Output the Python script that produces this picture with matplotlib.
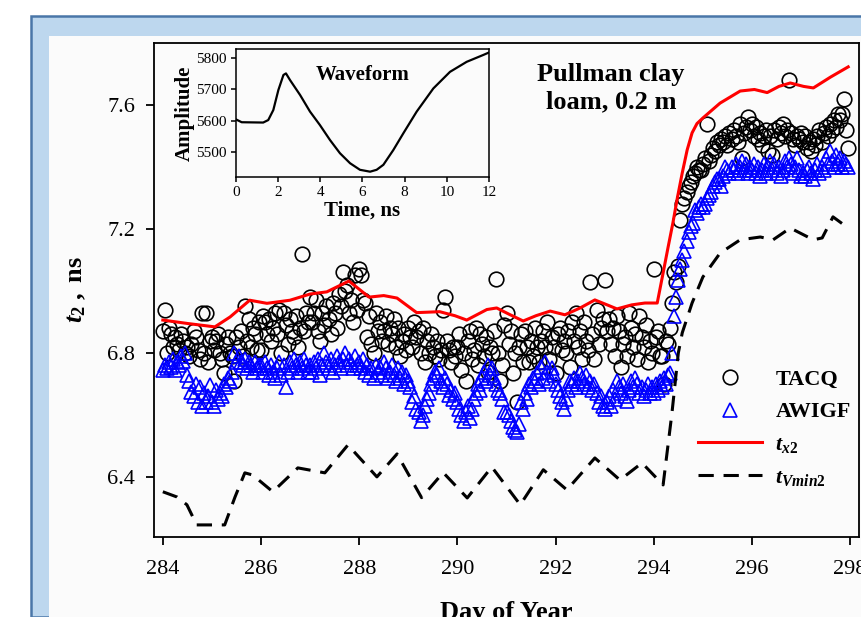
import numpy as np
import matplotlib.pyplot as plt
from matplotlib.patches import Rectangle

plt.rcParams["font.family"] = "Liberation Serif"
plt.rcParams["mathtext.fontset"] = "custom"
plt.rcParams["mathtext.rm"] = "Liberation Serif"
plt.rcParams["mathtext.it"] = "Liberation Serif:italic"
plt.rcParams["mathtext.bf"] = "Liberation Serif:bold"
plt.rcParams["mathtext.bfit"] = "Liberation Serif:italic:bold"

# hourly readings, day 284 .. 297 (24 per day)
tacq = [
    # 284
    6.87, 6.94, 6.80, 6.88, 6.86, 6.82, 6.85, 6.83, 6.81, 6.86, 6.84, 6.80,
    6.82, 6.79, 6.83, 6.87, 6.85, 6.81, 6.78, 6.93, 6.80, 6.93, 6.77, 6.84,
    # 285
    6.85, 6.81, 6.84, 6.86, 6.80, 6.78, 6.735, 6.83, 6.85, 6.80, 6.79, 6.71,
    6.85, 6.82, 6.87, 6.79, 6.95, 6.84, 6.91, 6.82, 6.88, 6.86, 6.81, 6.90,
    # 286
    6.81, 6.92, 6.90, 6.86, 6.91, 6.84, 6.88, 6.93, 6.86, 6.94, 6.80, 6.93,
    6.89, 6.83, 6.91, 6.87, 6.85, 6.92, 6.82, 6.88, 7.12, 6.87, 6.93, 6.90,
    # 287
    6.98, 6.90, 6.93, 6.97, 6.87, 6.84, 6.93, 6.89, 6.95, 6.91, 6.86, 6.96,
    6.93, 6.88, 6.99, 6.95, 7.06, 7.00, 7.02, 6.93, 6.97, 6.90, 7.05, 6.94,
    # 288
    7.07, 7.05, 6.97, 6.96, 6.85, 6.92, 6.83, 6.80, 6.93, 6.87, 6.90, 6.84,
    6.87, 6.92, 6.83, 6.88, 6.86, 6.91, 6.82, 6.88, 6.79, 6.84, 6.86, 6.81,
    # 289
    6.88, 6.85, 6.82, 6.90, 6.85, 6.87, 6.80, 6.88, 6.77, 6.84, 6.80, 6.86,
    6.82, 6.79, 6.84, 6.78, 6.81, 6.94, 6.98, 6.84, 6.81, 6.77, 6.82, 6.79,
    # 290
    6.82, 6.86, 6.745, 6.80, 6.71, 6.84, 6.87, 6.78, 6.81, 6.88, 6.76, 6.86,
    6.83, 6.79, 6.85, 6.74, 6.82, 6.80, 6.87, 7.04, 6.80, 6.71, 6.76, 6.89,
    # 291
    6.93, 6.83, 6.87, 6.735, 6.80, 6.64, 6.82, 6.86, 6.77, 6.87, 6.82, 6.77,
    6.84, 6.79, 6.88, 6.82, 6.77, 6.84, 6.87, 6.82, 6.90, 6.78, 6.85, 6.82,
    # 292
    6.735, 6.86, 6.88, 6.81, 6.84, 6.80, 6.87, 6.755, 6.90, 6.84, 6.93, 6.82,
    6.87, 6.78, 6.90, 6.84, 6.81, 7.03, 6.86, 6.78, 6.94, 6.83, 6.88, 6.91,
    # 293
    7.035, 6.87, 6.91, 6.83, 6.88, 6.79, 6.92, 6.87, 6.755, 6.83, 6.85, 6.79,
    6.93, 6.88, 6.82, 6.86, 6.78, 6.92, 6.85, 6.82, 6.89, 6.77, 6.84, 6.80,
    # 294
    7.07, 6.85, 6.87, 6.79, 6.79, 6.70, 6.84, 6.83, 6.88, 6.96, 7.06, 7.03,
    7.08, 7.23, 7.28, 7.30, 7.32, 7.34, 7.35, 7.37, 7.38, 7.40, 7.39, 7.39,
    # 295
    7.41, 7.43, 7.54, 7.42, 7.44, 7.46, 7.45, 7.48, 7.47, 7.49, 7.48, 7.50,
    7.47, 7.51, 7.49, 7.52, 7.50, 7.48, 7.54, 7.43, 7.51, 7.53, 7.56, 7.52,
    # 296
    7.54, 7.50, 7.53, 7.49, 7.51, 7.47, 7.50, 7.52, 7.45, 7.50, 7.44, 7.52,
    7.49, 7.53, 7.51, 7.54, 7.50, 7.52, 7.68, 7.51, 7.49, 7.47, 7.50, 7.49,
    # 297
    7.51, 7.48, 7.50, 7.46, 7.48, 7.45, 7.49, 7.47, 7.50, 7.52, 7.48, 7.51,
    7.53, 7.50, 7.54, 7.52, 7.55, 7.53, 7.57, 7.55, 7.57, 7.62, 7.52, 7.46,
]

awigf = [
    # 284
    6.745, 6.76, 6.75, 6.77, 6.755, 6.78, 6.745, 6.77, 6.76, 6.79, 6.775, 6.80,
    6.73, 6.71, 6.675, 6.66, 6.70, 6.64, 6.69, 6.63, 6.67, 6.64, 6.66, 6.695,
    # 285
    6.64, 6.63, 6.68, 6.65, 6.67, 6.66, 6.70, 6.69, 6.72, 6.71, 6.74, 6.80,
    6.77, 6.79, 6.77, 6.76, 6.78, 6.75, 6.77, 6.76, 6.74, 6.77, 6.75, 6.76,
    # 286
    6.76, 6.74, 6.77, 6.75, 6.73, 6.76, 6.74, 6.72, 6.75, 6.77, 6.73, 6.76,
    6.69, 6.74, 6.77, 6.75, 6.78, 6.76, 6.74, 6.77, 6.75, 6.78, 6.76, 6.74,
    # 287
    6.76, 6.74, 6.77, 6.75, 6.78, 6.73, 6.76, 6.80, 6.77, 6.75, 6.78, 6.74,
    6.76, 6.79, 6.77, 6.75, 6.78, 6.80, 6.76, 6.78, 6.77, 6.75, 6.79, 6.76,
    # 288
    6.77, 6.75, 6.78, 6.74, 6.76, 6.73, 6.75, 6.72, 6.76, 6.74, 6.755, 6.73,
    6.77, 6.75, 6.72, 6.74, 6.76, 6.73, 6.71, 6.75, 6.72, 6.74, 6.70, 6.73,
    # 289
    6.71, 6.69, 6.64, 6.66, 6.62, 6.61, 6.58, 6.60, 6.63, 6.65, 6.67, 6.70,
    6.72, 6.74, 6.73, 6.75, 6.71, 6.69, 6.72, 6.70, 6.665, 6.68, 6.65, 6.67,
    # 290
    6.64, 6.62, 6.60, 6.58, 6.61, 6.63, 6.59, 6.62, 6.65, 6.67, 6.70, 6.68,
    6.72, 6.74, 6.71, 6.76, 6.73, 6.75, 6.72, 6.70, 6.68, 6.67, 6.65, 6.61,
    # 291
    6.61, 6.60, 6.58, 6.56, 6.55, 6.545, 6.57, 6.64, 6.62, 6.67, 6.65, 6.70,
    6.69, 6.72, 6.71, 6.735, 6.70, 6.755, 6.72, 6.77, 6.74, 6.71, 6.75, 6.73,
    # 292
    6.70, 6.68, 6.66, 6.64, 6.62, 6.65, 6.68, 6.71, 6.70, 6.72, 6.69, 6.71,
    6.735, 6.72, 6.70, 6.73, 6.69, 6.71, 6.68, 6.70, 6.67, 6.64, 6.66, 6.63,
    # 293
    6.62, 6.64, 6.66, 6.63, 6.68, 6.65, 6.71, 6.69, 6.67, 6.70, 6.66, 6.645,
    6.68, 6.71, 6.69, 6.72, 6.70, 6.67, 6.69, 6.66, 6.68, 6.70, 6.67, 6.69,
    # 294
    6.67, 6.70, 6.68, 6.71, 6.69, 6.72, 6.70, 6.73, 6.735, 6.80, 6.92, 6.98,
    7.035, 7.07, 7.10, 7.13, 7.16, 7.19, 7.21, 7.22, 7.26, 7.25, 7.27, 7.28,
    # 295
    7.27, 7.28, 7.30, 7.31, 7.32, 7.34, 7.35, 7.36, 7.36, 7.34, 7.37, 7.40,
    7.39, 7.38, 7.40, 7.39, 7.41, 7.38, 7.40, 7.42, 7.39, 7.41, 7.38, 7.40,
    # 296
    7.39, 7.41, 7.38, 7.40, 7.37, 7.39, 7.41, 7.38, 7.40, 7.42, 7.39, 7.41,
    7.38, 7.40, 7.37, 7.39, 7.42, 7.40, 7.43, 7.41, 7.38, 7.40, 7.43, 7.39,
    # 297
    7.37, 7.38, 7.37, 7.39, 7.40, 7.38, 7.36, 7.39, 7.41, 7.38, 7.40, 7.39,
    7.43, 7.41, 7.45, 7.42, 7.40, 7.44, 7.41, 7.43, 7.40, 7.42, 7.41, 7.40,
]

days = 284 + np.arange(len(tacq)) / 24

tx2_day = [284.0, 284.5, 285.06, 285.37, 285.77, 286.12, 286.59, 287.0, 287.34,
           287.79, 288.2, 288.5, 288.77, 289.17, 289.64, 289.95, 290.19, 290.6,
           290.8, 291.05, 291.34, 291.6, 291.89, 292.19, 292.5, 292.8, 293.05,
           293.25, 293.55, 293.82, 294.07, 294.19, 294.29, 294.39, 294.48,
           294.58, 294.68, 294.78, 294.88, 295.0, 295.35, 295.76, 296.05,
           296.31, 296.55, 296.78, 297.05, 297.25, 297.6, 297.96]
tx2_val = [6.906, 6.895, 6.884, 6.916, 6.97, 6.96, 6.97, 6.99, 6.997,
           7.032, 6.98, 6.985, 6.977, 6.93, 6.933, 6.92, 6.906, 6.94,
           6.945, 6.925, 6.903, 6.92, 6.935, 6.923, 6.945, 6.971, 6.955,
           6.942, 6.955, 6.961, 6.961, 7.058, 7.14, 7.22, 7.30,
           7.381, 7.455, 7.51, 7.54, 7.558, 7.606, 7.645, 7.65,
           7.64, 7.66, 7.671, 7.66, 7.655, 7.69, 7.723]

tv_day = [284.0, 284.29, 284.49, 284.69, 285.26, 285.47, 285.67, 285.83, 286.24,
          286.75, 287.3, 287.77, 288.36, 288.77, 289.27, 289.71, 290.2, 290.7,
          291.28, 291.75, 292.23, 292.8, 293.31, 293.76, 294.19, 294.37, 294.5,
          294.58, 294.78, 295.0, 295.35, 295.76, 296.17, 296.43, 296.78,
          297.25, 297.43, 297.65, 297.96]
tv_val = [6.352, 6.335, 6.31, 6.245, 6.245, 6.335, 6.413, 6.406, 6.352,
          6.429, 6.413, 6.503, 6.40, 6.474, 6.333, 6.414, 6.332, 6.432,
          6.31, 6.423, 6.358, 6.461, 6.39, 6.445, 6.374, 6.606, 6.80,
          6.865, 6.961, 7.045, 7.122, 7.165, 7.174, 7.165, 7.203,
          7.165, 7.171, 7.239, 7.203]

wave_t = [0, 0.27, 1.29, 1.53, 1.77, 2.01, 2.25, 2.37, 2.56, 3.04, 3.51, 3.98,
          4.46, 4.93, 5.41, 5.88, 6.36, 6.67, 6.99, 7.46, 7.94, 8.57, 9.36,
          10.15, 10.94, 11.73, 11.97]
wave_amp = [5604, 5595, 5594, 5602, 5634, 5698, 5746, 5751, 5730, 5682, 5629,
            5586, 5538, 5496, 5464, 5443, 5437, 5443, 5459, 5506, 5560, 5629,
            5703, 5756, 5788, 5810, 5817]

fig = plt.figure(figsize=(8.62, 6.17), dpi=100)
W, H = 862, 617

# slide frame behind the chart
fig.add_artist(Rectangle((31 / W, 0), 1, 1 - 16 / H, transform=fig.transFigure,
                         facecolor="#bdd7ee", edgecolor="#4a76a8", lw=1.8, zorder=-10))
fig.add_artist(Rectangle((49 / W, 0), 1, 1 - 36 / H, transform=fig.transFigure,
                         facecolor="#fbfbfb", edgecolor="none", zorder=-9))

ax = fig.add_axes([154 / W, 1 - 537 / H, 705 / W, 494 / H])
ax.set_facecolor("none")

ax.plot(days, tacq, "o", ms=10.5, mfc="none", mec="black", mew=1.2, label="TACQ")
ax.plot(days, awigf, "^", ms=9.5, mfc="none", mec="#0000ff", mew=1.2, label="AWIGF")
ax.plot(tx2_day, tx2_val, color="#ff0000", lw=2.2,
        label=r"$\mathbfit{t}_{\mathbfit{x}\mathbf{2}}$")
ax.plot(tv_day, tv_val, color="black", lw=2.2, dashes=(5, 3.2),
        label=r"$\mathbfit{t}_{\mathbfit{Vmin}\mathbf{2}}$")

ax.set_xlim(283.82, 298.18)
ax.set_ylim(6.206, 7.8)
ax.set_xticks(range(284, 299, 2))
ax.set_yticks([6.4, 6.8, 7.2, 7.6])
ax.tick_params(direction="out", length=5.5, width=1.3, labelsize=16, top=False, right=False)
ax.tick_params(axis="x", pad=11)
ax.tick_params(axis="y", pad=8)
for s in ax.spines.values():
    s.set_linewidth(1.3)

ax.set_xlabel("Day of Year", fontsize=19, fontweight="bold", labelpad=16)
ax.set_ylabel(r"$\mathbfit{t}_{\mathbf{2}}$$\mathbf{\ ,\ ns}$", fontsize=19, labelpad=14)

ax.text(0.648, 0.909, "Pullman clay\nloam, 0.2 m", transform=ax.transAxes,
        ha="center", va="center", fontsize=19, fontweight="bold", linespacing=1.22)

ax.legend(loc="upper left", bbox_to_anchor=(0.771, 0.34), frameon=False,
          prop={"weight": "bold", "size": 16}, handlelength=2.9,
          handletextpad=0.6, labelspacing=0.55, borderpad=0, borderaxespad=0)

# inset waveform
ins = fig.add_axes([236 / W, 1 - 177 / H, 253 / W, 128 / H])
ins.set_facecolor("none")
ins.plot(wave_t, wave_amp, color="black", lw=1.6)
ins.set_xlim(0, 12)
ins.set_ylim(5420, 5829)
ins.set_xticks(range(0, 13, 2))
ins.set_yticks([5500, 5600, 5700, 5800])
ins.tick_params(direction="out", length=3.5, width=1.1, labelsize=11, top=False,
                right=False, pad=3)
for s in ins.spines.values():
    s.set_linewidth(1.1)
ins.set_xlabel("Time, ns", fontsize=15, fontweight="bold", labelpad=1)
ins.set_ylabel("Amplitude", fontsize=15, fontweight="bold", labelpad=1)
ins.text(0.5, 0.8, "Waveform", transform=ins.transAxes, ha="center", va="center",
         fontsize=15, fontweight="bold")

fig.savefig("out.png", dpi=100)
